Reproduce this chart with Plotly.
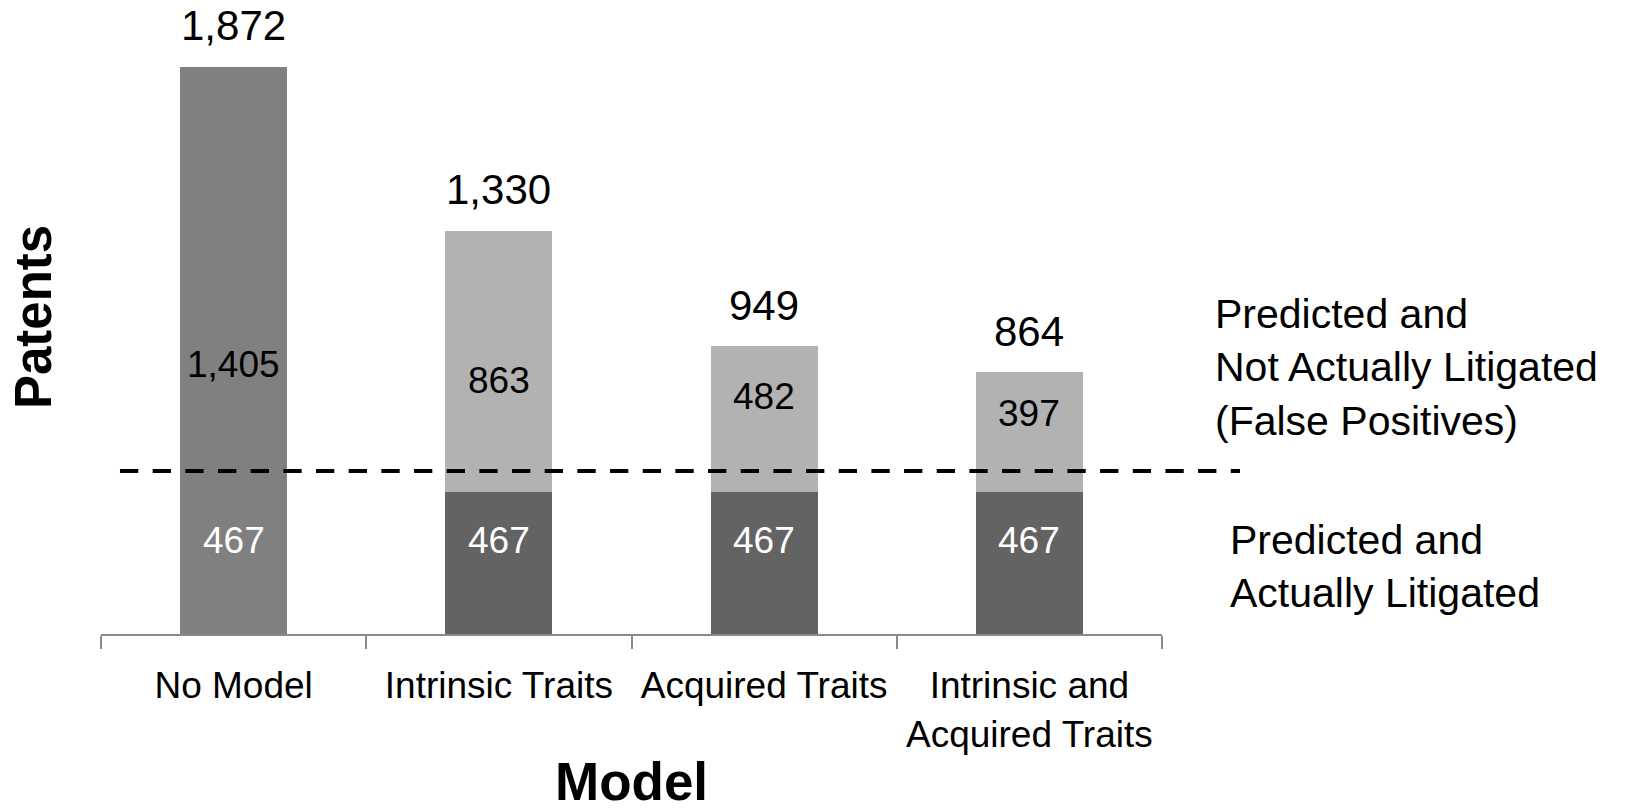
import plotly.graph_objects as go

# ---- data ----
categories = ["No Model", "Intrinsic Traits", "Acquired Traits", "Intrinsic and<br>Acquired Traits"]
litigated = [467, 467, 467, 467]            # Predicted and Actually Litigated
false_pos = [1405, 863, 482, 397]           # Predicted and Not Actually Litigated
totals = [a + b for a, b in zip(litigated, false_pos)]
divider_level = 538

# ---- styling / placement (not data) ----
bottom_colors = ["#808080", "#636363", "#636363", "#636363"]
top_colors = ["#808080", "#b2b2b2", "#b2b2b2", "#b2b2b2"]
top_label_y = [898, 845, 792, 736]
base_label_y = [317, 317, 317, 317]

NARROW = "Liberation Sans Narrow, Arial Narrow, Liberation Sans, Arial, sans-serif"
REG = "Liberation Sans, Arial, Helvetica, sans-serif"

fig = go.Figure()
fig.add_trace(go.Bar(x=categories, y=litigated, name="Predicted and Actually Litigated",
                     marker=dict(color=bottom_colors, line=dict(width=0))))
fig.add_trace(go.Bar(x=categories, y=false_pos, name="Predicted and Not Actually Litigated",
                     marker=dict(color=top_colors, line=dict(width=0))))

def fmt(v):
    return f"{v:,}"

ann = []
for c, t in zip(categories, totals):
    ann.append(dict(x=c, y=t, xref="x", yref="y", text=fmt(t), showarrow=False,
                    yanchor="middle", yshift=41, font=dict(family=REG, size=42, color="black")))
for c, v, yy in zip(categories, false_pos, top_label_y):
    ann.append(dict(x=c, y=yy, xref="x", yref="y", text=fmt(v), showarrow=False,
                    yanchor="middle", yshift=-3, font=dict(family=NARROW, size=37, color="black")))
for c, v, yy in zip(categories, litigated, base_label_y):
    ann.append(dict(x=c, y=yy, xref="x", yref="y", text=fmt(v), showarrow=False,
                    yanchor="middle", yshift=-3, font=dict(family=NARROW, size=37, color="white")))

ann.append(dict(x=1.048, y=0.4196, xref="paper", yref="paper", xanchor="left", yanchor="middle",
                align="left", showarrow=False,
                text="Predicted and<br>Not Actually Litigated<br>(False Positives)",
                font=dict(family=REG, size=41, color="black")))
ann.append(dict(x=1.062, y=0.1057, xref="paper", yref="paper", xanchor="left", yanchor="middle",
                align="left", showarrow=False,
                text="Predicted and<br>Actually Litigated",
                font=dict(family=REG, size=41, color="black")))
ann.append(dict(x=-0.064, y=0.5, xref="paper", yref="paper", xanchor="center", yanchor="middle",
                textangle=-90, showarrow=False, text="<b>Patents</b>",
                font=dict(family=REG, size=51, color="black")))
ann.append(dict(x=0.5, y=-0.232, xref="paper", yref="paper", xanchor="center", yanchor="middle",
                showarrow=False, text="<b>Model</b>",
                font=dict(family=REG, size=53, color="black")))

fig.update_layout(
    width=1625, height=808,
    margin=dict(l=101, r=463, t=0, b=174, autoexpand=False),
    barmode="stack", bargap=0.597,
    showlegend=False,
    plot_bgcolor="white", paper_bgcolor="white",
    annotations=ann,
    shapes=[dict(type="line", xref="paper", yref="y", x0=0.0179, x1=1.0735,
                 y0=divider_level, y1=divider_level,
                 line=dict(color="black", width=4, dash="18.3px,14.37px"), layer="above")],
)
fig.update_xaxes(
    showline=True, linecolor="#8a8a8a", linewidth=2,
    ticks="outside", ticklen=13, tickwidth=2, tickcolor="#8a8a8a",
    tickson="boundaries", range=[-0.5, 3.5], tickangle=0,
    tickfont=dict(family=NARROW, size=37, color="black"),
    ticklabelstandoff=18,
    showgrid=False, zeroline=False,
)
fig.update_yaxes(
    range=[0, 2092], showticklabels=False, showgrid=False, zeroline=False,
    showline=False, ticks="",
)

fig.write_html("out.html", config={"displayModeBar": False},
               post_script="document.body.style.margin='0';document.body.style.padding='0';")
